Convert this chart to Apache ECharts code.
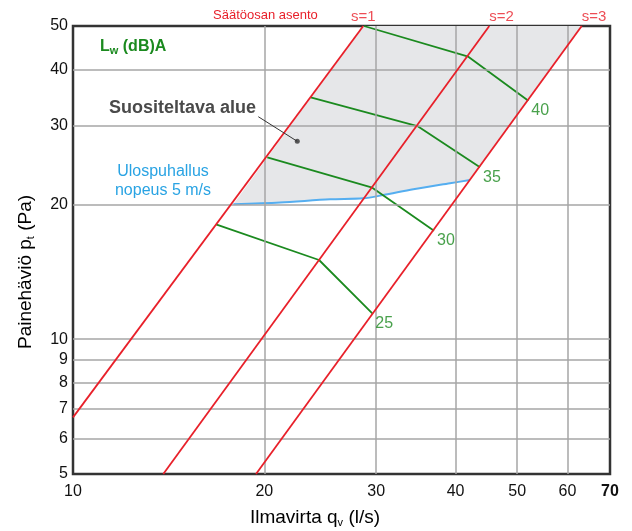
<!DOCTYPE html>
<html><head><meta charset="utf-8">
<script src="https://cdn.jsdelivr.net/npm/echarts@6/dist/echarts.min.js"></script>
<style>html,body{margin:0;padding:0;background:#fff}#c{width:632px;height:531px}</style>
</head><body><div id="c"></div>
<script>
// ---- data ----
const xTicks = [10, 20, 30, 40, 50, 60, 70];
const yTicks = [5, 6, 7, 8, 9, 10, 20, 30, 40, 50];

const settingNames = ['s=1', 's=2', 's=3'];
const s1Q = [10, 28.63], s1P = [6.69, 50];
const s2Q = [13.87, 45.2], s2P = [5, 50];
const s3Q = [19.41, 63.18], s3P = [5, 50];

const soundLevels = ['25', '30', '35', '40'];
const lw25Q = [16.79, 24.39, 29.58], lw25P = [18.04, 15.02, 11.42];
const lw30Q = [20.22, 29.58, 36.99], lw30P = [25.45, 21.78, 17.46];
const lw35Q = [23.66, 34.83, 43.70], lw35P = [34.65, 29.9, 24.18];
const lw40Q = [28.7, 41.89, 52.07], lw40P = [50, 42.7, 34.05];

const outletQ = [17.88, 21.17, 25.38, 28.63, 30.78, 34.32, 39.2, 42.14];
const outletP = [20.0, 20.18, 20.52, 20.62, 20.97, 21.6, 22.28, 22.65];

const noteQ = [19.57, 22.54], noteP = [31.37, 27.64];

// ---- helpers ----
const zip = (a, b) => a.map((v, i) => [v, b[i]]);
const FONT = 'Liberation Sans, Arial, sans-serif';
const RED = '#e8202a', GREEN = '#1b8a1f', BLUE = '#55aef0';

const settingQ = [s1Q, s2Q, s3Q], settingP = [s1P, s2P, s3P];
const lwQ = [lw25Q, lw30Q, lw35Q, lw40Q], lwP = [lw25P, lw30P, lw35P, lw40P];

// recommended region: along outlet curve, up s=3, along top, down s=1
const regionPts = zip(outletQ, outletP)
  .concat([[s3Q[1], s3P[1]], [s1Q[1], s1P[1]]]);

const series = [];

series.push({
  type: 'custom', z: 1, silent: true,
  data: [regionPts[0]],
  renderItem: (params, api) => ({
    type: 'polygon',
    shape: { points: regionPts.map(p => api.coord(p)) },
    style: { fill: '#e6e7e9' }
  })
});

const edgeX = [xTicks[0], xTicks[xTicks.length - 1]];
const edgeY = [yTicks[0], yTicks[yTicks.length - 1]];
const hidden = { color: 'rgba(0,0,0,0)' };
series.push({
  type: 'line', z: 2, data: [], silent: true,
  markLine: {
    silent: true, animation: false, symbol: ['none', 'none'],
    lineStyle: { color: '#a6a6a6', width: 1.5, type: 'solid' },
    label: { show: true, formatter: '{b}', color: '#111', fontSize: 16, fontFamily: FONT },
    data: xTicks.map(v => ({
      xAxis: v, name: String(v),
      lineStyle: edgeX.includes(v) ? hidden : {},
      label: { position: 'start', distance: 10, align: 'center', verticalAlign: 'top',
               fontWeight: v === 70 ? 'bold' : 'normal' }
    })).concat(yTicks.map(v => ({
      yAxis: v, name: String(v),
      lineStyle: edgeY.includes(v) ? hidden : {},
      label: { position: 'start', distance: 5, align: 'right', verticalAlign: 'middle' }
    })))
  }
});

// outlet speed line
series.push({
  type: 'line', z: 3, data: zip(outletQ, outletP), smooth: 0.3,
  symbol: 'none', lineStyle: { color: BLUE, width: 2 }
});

// sound level lines
lwQ.forEach((q, i) => {
  series.push({
    type: 'line', z: 4, data: zip(q, lwP[i]), symbol: 'none',
    lineStyle: { color: GREEN, width: 1.8 }
  });
});
series.push({
  type: 'scatter', z: 6, symbolSize: 0,
  data: lwQ.map((q, i) => ({ value: [q[q.length - 1], lwP[i][lwP[i].length - 1]], name: soundLevels[i] })),
  label: { show: true, formatter: '{b}', position: 'right', distance: 3, offset: [0, 10],
           color: GREEN, fontSize: 16, fontFamily: FONT }
});

// damper setting lines
settingQ.forEach((q, i) => {
  series.push({
    type: 'line', z: 5, data: zip(q, settingP[i]), symbol: 'none',
    lineStyle: { color: RED, width: 1.8 }
  });
});
series.push({
  type: 'scatter', z: 6, symbolSize: 0,
  data: settingQ.map((q, i) => ({
    value: [q[1], settingP[i][1]], name: settingNames[i],
    label: { align: i === 0 ? 'center' : 'left' }
  })),
  label: { show: true, formatter: '{b}', position: 'top', distance: 2,
           color: RED, fontSize: 15, fontFamily: FONT }
});

// annotation leader + dot
series.push({
  type: 'line', z: 6, data: zip(noteQ, noteP), symbol: 'none',
  lineStyle: { color: '#333', width: 1 }
});
series.push({
  type: 'scatter', z: 6, data: [[noteQ[1], noteP[1]]], symbolSize: 5,
  itemStyle: { color: '#333' }
});

const option = {
  animation: false,
  textStyle: { fontFamily: FONT },
  grid: { left: 73, right: 22, top: 26, bottom: 57, show: true,
          borderColor: '#333', borderWidth: 2.5, backgroundColor: 'transparent' },
  xAxis: { type: 'log', logBase: 10, min: 10, max: 70,
           axisLine: { show: false }, axisTick: { show: false },
           axisLabel: { show: false }, splitLine: { show: false }, minorSplitLine: { show: false } },
  yAxis: { type: 'log', logBase: 10, min: 5, max: 50,
           axisLine: { show: false }, axisTick: { show: false },
           axisLabel: { show: false }, splitLine: { show: false }, minorSplitLine: { show: false } },
  graphic: [
    { type: 'text', left: 213, top: 9, style: { text: 'Säätöosan asento', fill: RED, fontSize: 13, fontFamily: FONT } },
    { type: 'text', x: 100, y: 47, style: {
        text: '{b|L}{s|w}{b| (dB)A}', textVerticalAlign: 'middle',
        rich: { b: { fontSize: 16, fontWeight: 'bold', fill: GREEN, color: GREEN, fontFamily: FONT },
                s: { fontSize: 11, fontWeight: 'bold', fill: GREEN, color: GREEN, fontFamily: FONT, padding: [8, 0, 0, 0] } } } },
    { type: 'text', x: 256, y: 108, style: { text: 'Suositeltava alue', fill: '#4a4a4a', fontSize: 18, fontWeight: 'bold',
        fontFamily: FONT, textAlign: 'right', textVerticalAlign: 'middle' } },
    { type: 'text', x: 163, y: 181, style: { text: 'Ulospuhallus\nnopeus 5 m/s', fill: '#29a3e3', fontSize: 16,
        lineHeight: 19, fontFamily: FONT, textAlign: 'center', textVerticalAlign: 'middle' } },
    { type: 'text', x: 315, y: 518, style: {
        text: '{a|Ilmavirta q}{s|v}{a| (l/s)}', textAlign: 'center', textVerticalAlign: 'middle',
        rich: { a: { fontSize: 19, color: '#4d4d4d', fontFamily: FONT },
                s: { fontSize: 11, color: '#4d4d4d', fontFamily: FONT, padding: [10, 0, 0, 0] } } } },
    { type: 'text', x: 26, y: 272, rotation: Math.PI / 2, style: {
        text: '{a|Painehäviö p}{s|t}{a| (Pa)}', textAlign: 'center', textVerticalAlign: 'middle',
        rich: { a: { fontSize: 19, color: '#4d4d4d', fontFamily: FONT },
                s: { fontSize: 11, color: '#4d4d4d', fontFamily: FONT, padding: [10, 0, 0, 0] } } } }
  ],
  series
};

const chart = echarts.init(document.getElementById('c'), null, { renderer: 'canvas' });
chart.setOption(option);
</script>
</body></html>
